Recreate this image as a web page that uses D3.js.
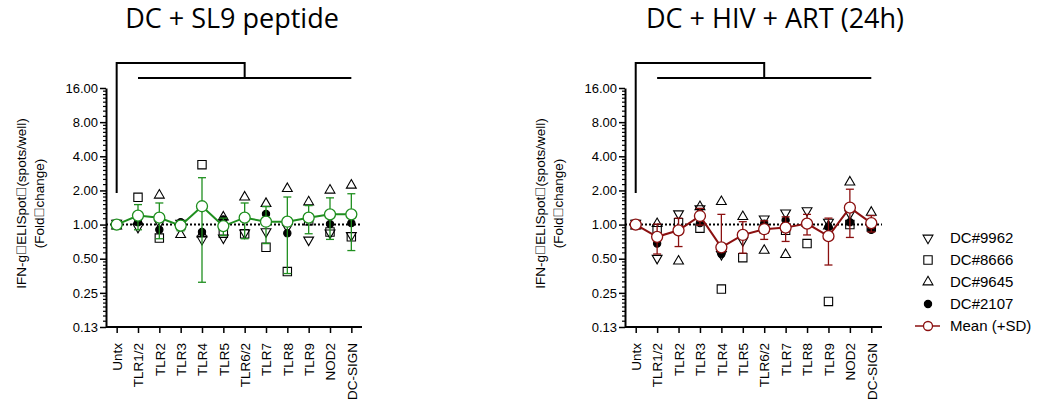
<!DOCTYPE html>
<html>
<head>
<meta charset="utf-8">
<script src="https://cdn.jsdelivr.net/npm/d3@7"></script>
<style>
  body { margin: 0; background: #fff; }
  text { font-family: "Liberation Sans", Arial, sans-serif; }
</style>
</head>
<body>
<div class="container"></div>
<script>
// Width and height
var w = 1038;
var h = 407;

var categories = ["Untx", "TLR1/2", "TLR2", "TLR3", "TLR4", "TLR5", "TLR6/2", "TLR7", "TLR8", "TLR9", "NOD2", "DC-SIGN"];
var yTicks = [16, 8, 4, 2, 1, 0.5, 0.25, 0.125];

// DC + SL9 peptide (fold change)
var sl9_dc9962 = [1, 0.92, 1.0, 1.0, 0.72, 0.74, 0.82, 0.84, 0.92, 0.71, 0.82, 0.78];
var sl9_dc8666 = [1, 1.74, 0.76, 0.98, 3.37, 0.84, 0.83, 0.63, 0.385, 1.08, 0.86, 0.78];
var sl9_dc9645 = [1, 1.10, 1.87, 0.84, 0.85, 1.20, 1.80, 1.58, 2.14, 1.63, 2.07, 2.29];
var sl9_dc2107 = [1, 1.05, 0.90, 1.05, 0.86, 1.11, 1.15, 1.24, 0.84, 1.18, 1.01, 1.03];
var sl9_mean = [1, 1.20, 1.15, 0.98, 1.45, 0.97, 1.15, 1.06, 1.06, 1.15, 1.23, 1.23];
var sl9_sd = [0, 0.30, 0.40, 0.10, 1.14, 0.17, 0.40, 0.38, 0.69, 0.32, 0.49, 0.64];

// DC + HIV + ART (24h) (fold change)
var hiv_dc9962 = [1, 0.49, 1.21, 1.34, 0.53, 0.70, 1.09, 1.23, 1.29, 1.02, 1.21, 0.92];
var hiv_dc8666 = [1, 0.92, 1.04, 0.93, 0.27, 0.51, 0.92, 0.89, 0.68, 0.21, 1.00, 0.95];
var hiv_dc9645 = [1, 1.05, 0.49, 1.48, 1.64, 1.21, 0.61, 0.56, 1.05, 1.00, 2.44, 1.32];
var hiv_dc2107 = [1, 0.68, 0.86, 1.03, 0.55, 0.80, 1.02, 1.09, 1.05, 0.95, 1.05, 0.90];
var hiv_mean = [1, 0.78, 0.89, 1.19, 0.63, 0.81, 0.91, 0.94, 1.02, 0.79, 1.41, 1.03];
var hiv_sd = [0, 0.23, 0.25, 0.20, 0.60, 0.25, 0.17, 0.23, 0.21, 0.35, 0.64, 0.17];

var seriesNames = ["DC#9962", "DC#8666", "DC#9645", "DC#2107"];
var meanLabel = "Mean (+SD)";

var yLabel1 = "IFN-g\uF020ELISpot\uF020(spots/well)";
var yLabel2 = "(Fold\uF020change)";

var svg = d3.select(".container")
    .append("svg")
    .attr("width", w)
    .attr("height", h);

var symbols = [
    d3.symbol().type(d3.symbolTriangle).size(42),
    d3.symbol().type(d3.symbolSquare).size(70),
    d3.symbol().type(d3.symbolTriangle).size(42),
    d3.symbol().type(d3.symbolCircle).size(42)
];
var rotations = [180, 0, 0, 0];
var fills = ["none", "none", "none", "#000"];

function drawPanel(opt) {
    var y = d3.scaleLog().base(2)
        .domain([0.125, 16])
        .range([327, 88]);

    var x = d3.scalePoint()
        .domain(categories)
        .range(opt.xRange)
        .padding(0.5);

    var g = svg.append("g");

    // title
    g.append("text")
        .attr("x", opt.titleX)
        .attr("y", 28)
        .attr("text-anchor", "middle")
        .style("font-family", "'Open Sans', sans-serif")
        .style("font-size", "27px")
        .text(opt.title);

    // minor ticks
    var minor = [];
    yTicks.slice(1).forEach(function(v) {
        for (var k = 1; k < 8; k++) minor.push(v * (1 + k / 8));
    });
    g.selectAll(".minor")
        .data(minor)
        .enter().append("line")
        .attr("x1", opt.xRange[0] - 3)
        .attr("x2", opt.xRange[0])
        .attr("y1", function(d) { return y(d); })
        .attr("y2", function(d) { return y(d); })
        .attr("stroke", "#000")
        .attr("stroke-width", 1.2);

    var yAxis = g.append("g")
        .attr("transform", "translate(" + opt.xRange[0] + ",0)")
        .call(d3.axisLeft(y)
            .tickValues(yTicks)
            .tickSize(6)
            .tickSizeOuter(0)
            .tickFormat(function(d) { return d.toFixed(2); }));
    yAxis.select(".domain").attr("stroke-width", 2);
    yAxis.selectAll(".tick line").attr("stroke-width", 1.5);
    yAxis.selectAll(".tick text")
        .style("font-size", "13px")
        .style("font-family", "'Liberation Sans', Arial, sans-serif")
        .attr("x", -8);

    var xAxis = g.append("g")
        .attr("transform", "translate(0,327)")
        .call(d3.axisBottom(x).tickSize(6).tickSizeOuter(0));
    xAxis.select(".domain").attr("stroke-width", 2)
        .attr("d", "M" + opt.xRange[0] + ",0H" + opt.xRange[1]);
    xAxis.selectAll(".tick line").attr("stroke-width", 1.5);
    xAxis.selectAll(".tick text")
        .style("font-size", "13.5px")
        .style("font-family", "'Liberation Sans', Arial, sans-serif")
        .attr("transform", "rotate(-90)")
        .attr("x", -16)
        .attr("y", 0)
        .attr("dy", "0.35em")
        .attr("text-anchor", "end");

    // y label
    var ly = (y(16) + y(0.125)) / 2 - 4;
    g.append("text")
        .attr("transform", "translate(" + (opt.xRange[0] - 80) + "," + ly + ") rotate(-90)")
        .attr("text-anchor", "middle")
        .style("font-size", "13.5px")
        .text(yLabel1);
    g.append("text")
        .attr("transform", "translate(" + (opt.xRange[0] - 62) + "," + ly + ") rotate(-90)")
        .attr("text-anchor", "middle")
        .style("font-size", "13.5px")
        .text(yLabel2);

    // dotted reference line at 1
    g.append("line")
        .attr("x1", opt.xRange[0])
        .attr("x2", opt.xRange[1])
        .attr("y1", y(1))
        .attr("y2", y(1))
        .attr("stroke", "#000")
        .attr("stroke-width", 2)
        .attr("stroke-dasharray", "2,2");

    // comparison bracket
    var xu = x(categories[0]);
    var xa = x(categories[1]);
    var xb = x(categories[categories.length - 1]);
    var xm = x(categories[6]);
    g.append("path")
        .attr("d", "M" + xu + ",193V63H" + xm + "V78")
        .attr("fill", "none")
        .attr("stroke", "#000")
        .attr("stroke-width", 2);
    g.append("line")
        .attr("x1", xa).attr("x2", xb)
        .attr("y1", 78).attr("y2", 78)
        .attr("stroke", "#000")
        .attr("stroke-width", 2);

    // individual donors
    opt.series.forEach(function(s, i) {
        g.selectAll(".pt" + i)
            .data(s)
            .enter().append("path")
            .attr("d", symbols[i])
            .attr("transform", function(d, j) {
                var dy = i === 0 ? -1.5 : (i === 2 ? 1.5 : 0);
                return "translate(" + x(categories[j]) + "," + (y(d) + dy) + ") rotate(" + rotations[i] + ")";
            })
            .attr("fill", fills[i])
            .attr("stroke", "#000")
            .attr("stroke-width", 1.1);
    });

    // error bars
    var eb = g.selectAll(".eb")
        .data(opt.mean.map(function(m, j) { return { m: m, sd: opt.sd[j], c: categories[j] }; }))
        .enter().append("g");
    eb.each(function(d) {
        if (d.sd <= 0) return;
        var sel = d3.select(this);
        var cx = x(d.c);
        var top = y(d.m + d.sd);
        var lo = d.m - d.sd;
        var bottom = lo >= 0.125 ? y(lo) : null;
        sel.append("line")
            .attr("x1", cx).attr("x2", cx)
            .attr("y1", top).attr("y2", bottom === null ? y(d.m) : bottom)
            .attr("stroke", opt.color).attr("stroke-width", 1.3);
        sel.append("line")
            .attr("x1", cx - 4).attr("x2", cx + 4)
            .attr("y1", top).attr("y2", top)
            .attr("stroke", opt.color).attr("stroke-width", 1.3);
        if (bottom !== null) {
            sel.append("line")
                .attr("x1", cx - 4).attr("x2", cx + 4)
                .attr("y1", bottom).attr("y2", bottom)
                .attr("stroke", opt.color).attr("stroke-width", 1.3);
        }
    });

    // mean line
    var line = d3.line()
        .x(function(d, j) { return x(categories[j]); })
        .y(function(d) { return y(d); });
    g.append("path")
        .datum(opt.mean)
        .attr("d", line)
        .attr("fill", "none")
        .attr("stroke", opt.color)
        .attr("stroke-width", 2);

    g.selectAll(".mean")
        .data(opt.mean)
        .enter().append("circle")
        .attr("cx", function(d, j) { return x(categories[j]); })
        .attr("cy", function(d) { return y(d); })
        .attr("r", 5.5)
        .attr("fill", "#fff")
        .attr("stroke", opt.color)
        .attr("stroke-width", 1.3);
}

drawPanel({
    title: "DC + SL9 peptide",
    titleX: 232,
    xRange: [106, 362],
    series: [sl9_dc9962, sl9_dc8666, sl9_dc9645, sl9_dc2107],
    mean: sl9_mean,
    sd: sl9_sd,
    color: "#1f8f1f"
});

drawPanel({
    title: "DC + HIV + ART (24h)",
    titleX: 775,
    xRange: [625, 882],
    series: [hiv_dc9962, hiv_dc8666, hiv_dc9645, hiv_dc2107],
    mean: hiv_mean,
    sd: hiv_sd,
    color: "#8b1010"
});

// legend
var legend = svg.append("g")
    .attr("transform", "translate(928,238)");

var rows = legend.selectAll(".row")
    .data(seriesNames)
    .enter().append("g")
    .attr("transform", function(d, i) { return "translate(0," + (i * 22) + ")"; });

rows.append("path")
    .attr("d", function(d, i) { return symbols[i](); })
    .attr("transform", function(d, i) { return "rotate(" + rotations[i] + ")"; })
    .attr("fill", function(d, i) { return fills[i]; })
    .attr("stroke", "#000")
    .attr("stroke-width", 1.1);

rows.append("text")
    .attr("x", 22)
    .attr("dy", "0.36em")
    .style("font-size", "15px")
    .text(function(d) { return d; });

var meanRow = legend.append("g")
    .attr("transform", "translate(0,88)");
meanRow.append("line")
    .attr("x1", -13).attr("x2", 12)
    .attr("stroke", "#8b1010")
    .attr("stroke-width", 1.5);
meanRow.append("circle")
    .attr("r", 4.5)
    .attr("fill", "#fff")
    .attr("stroke", "#8b1010")
    .attr("stroke-width", 1.3);
meanRow.append("text")
    .attr("x", 22)
    .attr("dy", "0.36em")
    .style("font-size", "15px")
    .text(meanLabel);
</script>
</body>
</html>
